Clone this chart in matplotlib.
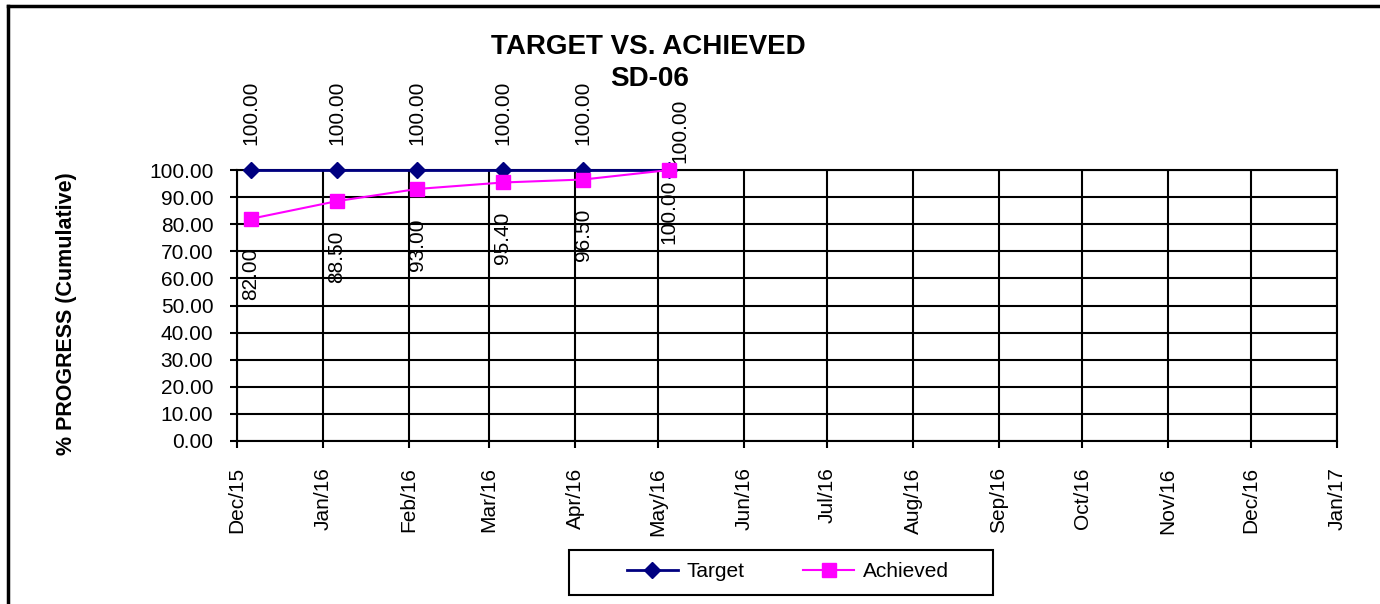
import datetime as dt
import matplotlib
matplotlib.use("Agg")
import matplotlib.pyplot as plt
import matplotlib.dates as mdates
from matplotlib.lines import Line2D
from matplotlib.patches import Rectangle

plt.rcParams['font.family'] = ['Liberation Sans', 'DejaVu Sans']

# data
dates = [dt.date(2015, 12, 6), dt.date(2016, 1, 6), dt.date(2016, 2, 4),
         dt.date(2016, 3, 6), dt.date(2016, 4, 4), dt.date(2016, 5, 5)]
target = [100.0, 100.0, 100.0, 100.0, 100.0, 100.0]
achieved = [82.0, 88.5, 93.0, 95.4, 96.5, 100.0]
month_ticks = [dt.date(2015, 12, 1)] + [dt.date(2016, m, 1) for m in range(1, 13)] + [dt.date(2017, 1, 1)]

fig = plt.figure(figsize=(13.8, 6.04), dpi=100)
ax = fig.add_axes([0.1717, 0.2699, 0.9688 - 0.1717, 0.7185 - 0.2699])

ax.plot(dates, target, color='#000080', lw=2, marker='D', ms=8, label='Target', zorder=3, clip_on=False)
ax.plot(dates, achieved, color='#FF00FF', lw=1.5, marker='s', ms=10, label='Achieved', zorder=4, clip_on=False)

# data labels (rotated, like the excel chart)
for i, (d, v) in enumerate(zip(dates, target)):
    if i == len(dates) - 1:
        ax.annotate(f'{v:.2f}', (d, v), xytext=(8, 5), textcoords='offset points',
                    rotation=90, ha='center', va='bottom', fontsize=15)
    else:
        ax.annotate(f'{v:.2f}', (d, v), xytext=(0, 18), textcoords='offset points',
                    rotation=90, ha='center', va='bottom', fontsize=15)
for i, (d, v) in enumerate(zip(dates, achieved)):
    if i == len(dates) - 1:
        ax.annotate(f'{v:.2f}', (d, v), xytext=(0, -7), textcoords='offset points',
                    rotation=90, ha='center', va='top', fontsize=15)
    else:
        ax.annotate(f'{v:.2f}', (d, v), xytext=(0, -21), textcoords='offset points',
                    rotation=90, ha='center', va='top', fontsize=15)

ax.set_xlim(month_ticks[0], month_ticks[-1])
ax.set_ylim(0, 100)
ax.set_yticks(range(0, 101, 10))
ax.yaxis.set_major_formatter(matplotlib.ticker.FormatStrFormatter('%.2f'))
ax.set_xticks(month_ticks)
ax.xaxis.set_major_formatter(mdates.DateFormatter('%b/%y'))
ax.tick_params(axis='x', rotation=90, labelsize=15, length=5, width=1.5, pad=14, direction='out')
ax.tick_params(axis='y', labelsize=15, length=5, width=1.5, pad=12, direction='out')

ax.grid(True, color='black', lw=1.5)
for s in ax.spines.values():
    s.set_linewidth(1.5)
    s.set_color('black')

ax.set_ylabel('% PROGRESS (Cumulative)', fontsize=15.5, fontweight='bold')
ax.yaxis.set_label_coords(-0.1455, 0.47)

# two-line title, drawn as two texts
fig.text(0.470, 1 - 47 / 604, 'TARGET VS. ACHIEVED', ha='center', va='center',
         fontsize=20, fontweight='bold')
fig.text(0.471, 1 - 79 / 604, 'SD-06', ha='center', va='center',
         fontsize=20, fontweight='bold')

leg = fig.legend(loc='center', bbox_to_anchor=(0.571, 0.053), ncol=2, fontsize=15,
                 frameon=False, handlelength=2.45, handletextpad=0.43,
                 columnspacing=2.8, borderpad=0.2)
fig.add_artist(Rectangle((569 / 1380, 1 - 595 / 604), (993 - 569) / 1380, 45 / 604,
                         transform=fig.transFigure, fill=False, edgecolor='black', lw=1.5))

# outer chart frame
fig.add_artist(Line2D([0.006, 1.0], [0.99, 0.99], color='black', lw=2.5, transform=fig.transFigure))
fig.add_artist(Line2D([0.006, 0.006], [0.0, 0.99], color='black', lw=2.5, transform=fig.transFigure))

fig.savefig('out.png', dpi=100)
